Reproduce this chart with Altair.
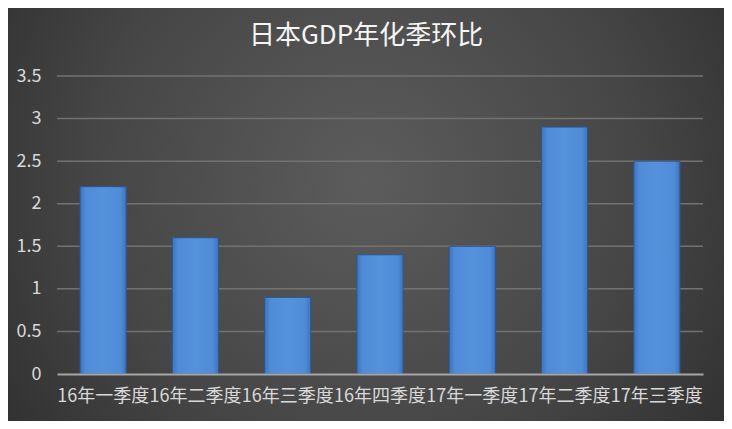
import altair as alt
import pandas as pd

# 日本GDP年化季环比
quarters = ["16年一季度", "16年二季度", "16年三季度", "16年四季度", "17年一季度", "17年二季度", "17年三季度"]
growth = [2.2, 1.6, 0.9, 1.4, 1.5, 2.9, 2.5]
y_ticks = [0, 0.5, 1, 1.5, 2, 2.5, 3, 3.5]

FONT = "Noto Sans CJK SC"
W, H = 646, 298
PAD = {"left": 49, "top": 68, "right": 21, "bottom": 47}

df = pd.DataFrame({"quarter": quarters, "growth": growth})
grid_df = pd.DataFrame({"v": y_ticks[1:]})

y_scale = alt.Scale(domain=[0, 3.5])
y_axis = alt.Axis(
    values=y_ticks,
    format="~g",
    labelColor="#d9d9d9",
    labelFont=FONT,
    labelFontSize=18,
    labelPadding=16,
    ticks=False,
    domain=False,
    grid=False,
    zindex=1,
)

# dark radial background behind the whole chart
background = (
    alt.Chart(pd.DataFrame({"k": [0]}))
    .mark_rect(
        fill=alt.Gradient(
            gradient="radial",
            x1=0.5, y1=0.45, x2=0.5, y2=0.45, r1=0, r2=0.75,
            stops=[
                alt.GradientStop(color="#5c5c5c", offset=0),
                alt.GradientStop(color="#464646", offset=0.5),
                alt.GradientStop(color="#252525", offset=1),
            ],
        )
    )
    .encode(
        x=alt.value(-PAD["left"]),
        x2=alt.value(W + PAD["right"]),
        y=alt.value(-PAD["top"]),
        y2=alt.value(H + PAD["bottom"]),
    )
)

# horizontal gridlines (drawn as marks so they sit above the background)
grid = (
    alt.Chart(grid_df)
    .mark_rule(color="#727272", strokeWidth=1.5)
    .encode(y=alt.Y("v:Q", title=None, scale=y_scale, axis=y_axis))
)

bars = (
    alt.Chart(df)
    .mark_bar(
        fill=alt.Gradient(
            gradient="linear",
            x1=0, y1=0, x2=1, y2=0,
            stops=[
                alt.GradientStop(color="#3d74bd", offset=0),
                alt.GradientStop(color="#4f8bd7", offset=0.12),
                alt.GradientStop(color="#5592dc", offset=0.5),
                alt.GradientStop(color="#4f8bd7", offset=0.88),
                alt.GradientStop(color="#3d74bd", offset=1),
            ],
        ),
        stroke="#2c5792",
        strokeWidth=1,
    )
    .encode(
        x=alt.X(
            "quarter:N",
            sort=quarters,
            title=None,
            scale=alt.Scale(paddingInner=0.5, paddingOuter=0.25),
            axis=alt.Axis(
                labelAngle=0,
                labelColor="#d9d9d9",
                labelFont=FONT,
                labelFontSize=18,
                labelPadding=13,
                labelOverlap=False,
                ticks=False,
                domain=True,
                domainColor="#a6a6a6",
                domainWidth=2,
                grid=False,
                zindex=1,
            ),
        ),
        y=alt.Y("growth:Q", title=None, scale=y_scale, axis=y_axis),
    )
)

chart = (
    alt.layer(background, grid, bars)
    .properties(
        width=W,
        height=H,
        padding=PAD,
        autosize=alt.AutoSizeParams(type="none"),
        title=alt.TitleParams(
            "日本GDP年化季环比",
            font=FONT,
            fontSize=26,
            fontWeight="normal",
            color="#f5f5f5",
            anchor="middle",
            dx=-14,
            offset=-67,
            baseline="bottom",
            zindex=1,
        ),
    )
    .configure_view(stroke=None)
    .configure(background="#ffffff")
)

chart.save("out.html", embed_options={"renderer": "svg", "actions": False})
